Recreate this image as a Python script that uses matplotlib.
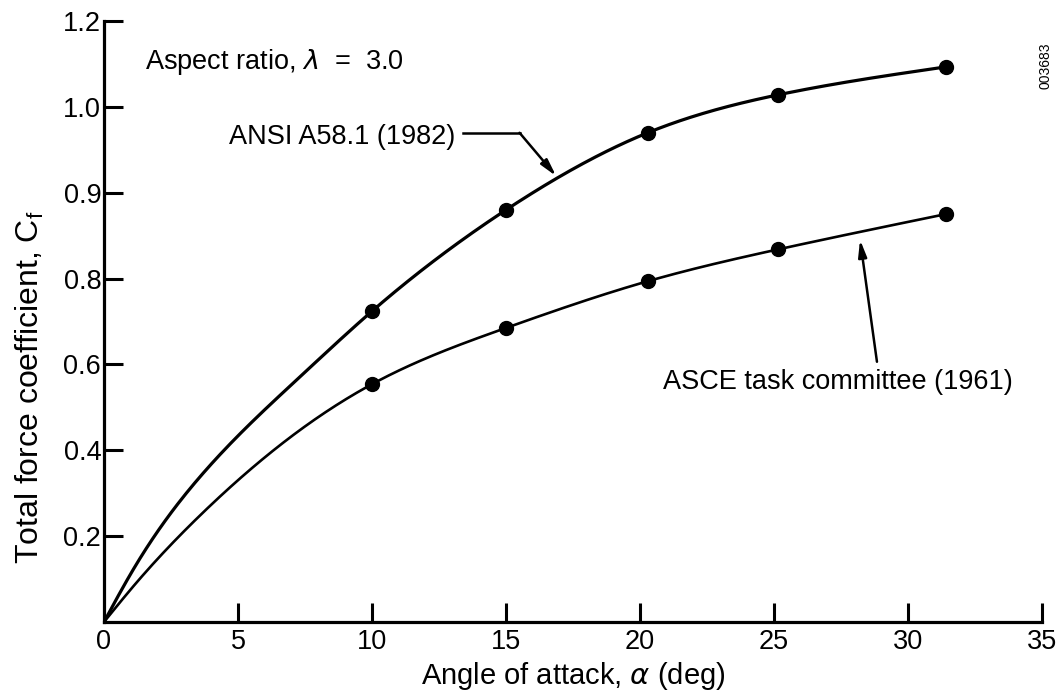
import numpy as np
import matplotlib
matplotlib.use('Agg')
import matplotlib.pyplot as plt

plt.rcParams['font.family'] = ['Liberation Sans', 'DejaVu Sans']
plt.rcParams['mathtext.fontset'] = 'dejavusans'

# y axis of the original is drawn with equally spaced (but uneven) labels
ytick_vals = [0.0, 0.2, 0.4, 0.6, 0.8, 0.9, 1.0, 1.2]
ytick_labels = ['', '0.2', '0.4', '0.6', '0.8', '0.9', '1.0', '1.2']
xticks = [0, 5, 10, 15, 20, 25, 30, 35]

# measured points (filled circles)
ansi_alpha = [10.0, 15.0, 20.3, 25.15, 31.4]
ansi_cf = [0.724, 0.880, 0.970, 1.028, 1.093]
asce_alpha = [10.0, 15.0, 20.3, 25.15, 31.4]
asce_cf = [0.554, 0.685, 0.794, 0.834, 0.875]

ansi_curve_alpha = [0.0, 1.08, 3.58, 7.31]
ansi_curve_cf = [0.0, 0.121, 0.338, 0.571]
asce_curve_alpha = [0.0, 1.08, 3.58, 7.31]
asce_curve_cf = [0.0, 0.082, 0.248, 0.447]

idx = np.arange(len(ytick_vals), dtype=float)


def fwd(v):
    return np.interp(v, ytick_vals, idx)


def inv(p):
    return np.interp(p, idx, ytick_vals)


def spline(x, y, xn):
    # natural cubic spline
    x = np.asarray(x, float)
    y = np.asarray(y, float)
    n = len(x)
    h = np.diff(x)
    A = np.zeros((n, n))
    r = np.zeros(n)
    A[0, 0] = 1
    A[-1, -1] = 1
    for i in range(1, n - 1):
        A[i, i - 1] = h[i - 1]
        A[i, i] = 2 * (h[i - 1] + h[i])
        A[i, i + 1] = h[i]
        r[i] = 6 * ((y[i + 1] - y[i]) / h[i] - (y[i] - y[i - 1]) / h[i - 1])
    M = np.linalg.solve(A, r)
    k = np.clip(np.searchsorted(x, xn) - 1, 0, n - 2)
    t0 = xn - x[k]
    t1 = x[k + 1] - xn
    hk = h[k]
    return (M[k] * t1**3 / (6 * hk) + M[k + 1] * t0**3 / (6 * hk)
            + (y[k] / hk - M[k] * hk / 6) * t1
            + (y[k + 1] / hk - M[k + 1] * hk / 6) * t0)


def smooth(ax_, ay_):
    # smooth in the drawn (display) space, then map back to values
    xs = np.linspace(ax_[0], ax_[-1], 400)
    ys = spline(ax_, fwd(np.asarray(ay_)), xs)
    return xs, inv(ys)


fig = plt.figure(figsize=(10.59, 6.91), dpi=100)
ax = fig.add_axes([0.0982, 0.0999, 0.8858, 0.8697])
ax.set_yscale('function', functions=(fwd, inv))

xa, ya = smooth(ansi_curve_alpha + ansi_alpha, ansi_curve_cf + ansi_cf)
ax.plot(xa, ya, color='black', lw=2.3, solid_capstyle='round', zorder=3)
xb, yb = smooth(asce_curve_alpha + asce_alpha, asce_curve_cf + asce_cf)
ax.plot(xb, yb, color='black', lw=1.9, solid_capstyle='round', zorder=3)

ax.plot(ansi_alpha, ansi_cf, 'o', color='black', ms=10, zorder=4)
ax.plot(asce_alpha, asce_cf, 'o', color='black', ms=10, zorder=4)

ax.set_xlim(0, 35)
ax.set_ylim(0, 1.2)
ax.set_xticks(xticks)
ax.set_xticklabels([str(t) for t in xticks])
ax.set_yticks(ytick_vals)
ax.set_yticklabels(ytick_labels)
ax.minorticks_off()

for s in ['top', 'right']:
    ax.spines[s].set_visible(False)
for s in ['left', 'bottom']:
    ax.spines[s].set_linewidth(2.3)
ax.tick_params(axis='both', direction='in', length=14, width=2.2,
               labelsize=19.5, color='black')
ax.tick_params(axis='x', pad=5)
ax.tick_params(axis='y', pad=2)
ax.xaxis.get_major_ticks()[0].tick1line.set_visible(False)
ax.yaxis.get_major_ticks()[0].tick1line.set_visible(False)

ax.set_xlabel(r'Angle of attack, $\alpha$ (deg)', fontsize=21, labelpad=4)
ax.set_ylabel(r'Total force coefficient, C$_\mathregular{f}$', fontsize=23)
ax.yaxis.set_label_coords(-0.062, 0.39)

ax.text(0.0437, 0.932, r'Aspect ratio, $\lambda$  =  3.0', transform=ax.transAxes,
        fontsize=19.5, ha='left', va='center')

ax.text(0.374, 0.807, 'ANSI A58.1 (1982)', transform=ax.transAxes,
        fontsize=19.5, ha='right', va='center')
ax.plot([0.383, 0.443], [0.814, 0.814], color='black', lw=1.8,
        transform=ax.transAxes, clip_on=False)
ax.annotate('', xy=(0.482, 0.742), xytext=(0.443, 0.814),
            xycoords='axes fraction', textcoords='axes fraction',
            arrowprops=dict(arrowstyle='-|>,head_length=1.0,head_width=0.25',
                            color='black', lw=1.8, shrinkA=0, shrinkB=0))

ax.text(0.596, 0.399, 'ASCE task committee (1961)', transform=ax.transAxes,
        fontsize=19.5, ha='left', va='center')
ax.annotate('', xy=(0.806, 0.636), xytext=(0.824, 0.433),
            xycoords='axes fraction', textcoords='axes fraction',
            arrowprops=dict(arrowstyle='-|>,head_length=1.0,head_width=0.25',
                            color='black', lw=1.8, shrinkA=0, shrinkB=0))

fig.text(0.987, 0.905, '003683', rotation=90, fontsize=10, ha='center', va='center')

fig.savefig('out.png', dpi=100)
